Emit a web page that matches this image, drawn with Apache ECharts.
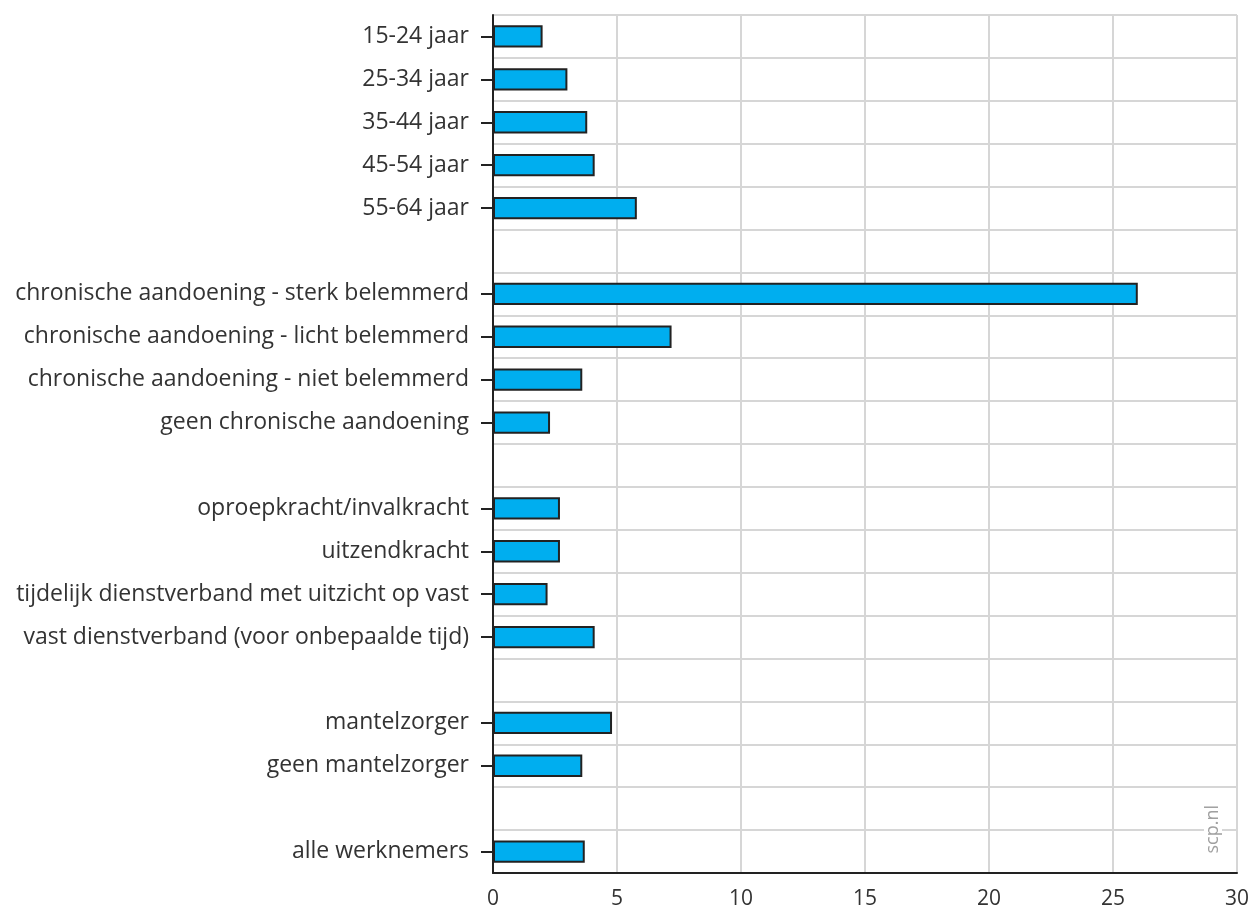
<!DOCTYPE html>
<html>
<head>
<meta charset="utf-8">
<script src="https://cdn.jsdelivr.net/npm/echarts@6/dist/echarts.min.js"></script>
<style>
html,body{margin:0;padding:0;background:#fff;}
#chart{width:1252px;height:910px;}
</style>
</head>
<body>
<div id="chart"></div>
<script>
// Categories top to bottom; null marks a blank spacer row
const categories = [
  '15-24 jaar', '25-34 jaar', '35-44 jaar', '45-54 jaar', '55-64 jaar',
  null,
  'chronische aandoening - sterk belemmerd',
  'chronische aandoening - licht belemmerd',
  'chronische aandoening - niet belemmerd',
  'geen chronische aandoening',
  null,
  'oproepkracht/invalkracht',
  'uitzendkracht',
  'tijdelijk dienstverband met uitzicht op vast',
  'vast dienstverband (voor onbepaalde tijd)',
  null,
  'mantelzorger',
  'geen mantelzorger',
  null,
  'alle werknemers'
];
const values = [
  2.0, 3.0, 3.8, 4.1, 5.8,
  null,
  26.0, 7.2, 3.6, 2.3,
  null,
  2.7, 2.7, 2.2, 4.1,
  null,
  4.8, 3.6,
  null,
  3.7
];
const xTicks = [0, 5, 10, 15, 20, 25, 30];

const catKeys = categories.map((c, i) => c === null ? ('_blank' + i) : c);

const chart = echarts.init(document.getElementById('chart'), null, {renderer: 'canvas'});
const font = 'Open Sans';
chart.setOption({
  animation: false,
  backgroundColor: '#ffffff',
  grid: {left: 493, right: 10, top: 15, bottom: 37, containLabel: false},
  xAxis: {
    type: 'value',
    min: xTicks[0],
    max: xTicks[xTicks.length - 1],
    interval: 5,
    axisLine: {show: true, lineStyle: {color: '#222', width: 2}},
    axisTick: {show: false},
    axisLabel: {color: '#333', fontFamily: font, fontSize: 21, margin: 16},
    splitLine: {show: true, lineStyle: {color: '#d6d6d6', width: 2}}
  },
  yAxis: {
    type: 'category',
    inverse: true,
    data: catKeys,
    axisLine: {show: true, lineStyle: {color: '#222', width: 2}},
    axisTick: {
      show: true, length: 12, alignWithLabel: true,
      interval: (idx, val) => categories[idx] !== null,
      lineStyle: {color: '#222', width: 2}
    },
    axisLabel: {
      interval: 0, color: '#333', fontFamily: font, fontSize: 23, margin: 24,
      formatter: (v) => v.indexOf('_blank') === 0 ? '' : v
    },
    splitLine: {show: true, interval: 0, lineStyle: {color: '#d6d6d6', width: 2}}
  },
  series: [{
    type: 'bar',
    data: values,
    barWidth: '52%',
    itemStyle: {color: '#00aeef', borderColor: '#222', borderWidth: 2}
  }],
  graphic: [{
    type: 'text',
    left: 1204,
    top: 801,
    rotation: Math.PI / 2,
    style: {
      text: 'scp.nl', fill: '#a0a0a0', fontFamily: font, fontSize: 18,
      backgroundColor: '#fff', padding: [0, 4]
    },
    z: 10
  }]
});
</script>
</body>
</html>
